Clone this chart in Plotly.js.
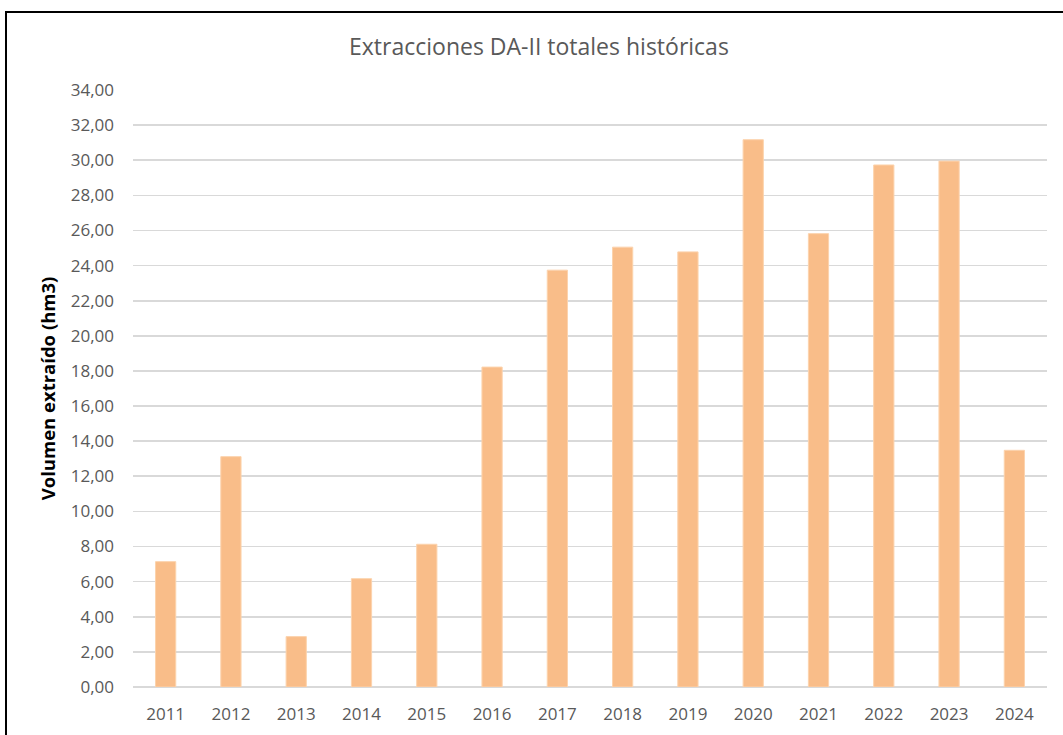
<!DOCTYPE html>
<html>
<head>
<meta charset="utf-8">
<script src="https://cdn.plot.ly/plotly-3.0.1.min.js"></script>
<style>
html,body{margin:0;padding:0;background:#fff;overflow:hidden;}
#chart{position:absolute;left:0;top:0;width:1063px;height:735px;}
#frame{position:absolute;left:5px;top:11px;width:1100px;height:800px;border:2px solid #000;pointer-events:none;}
</style>
</head>
<body>
<div id="chart"></div>
<div id="frame"></div>
<script>
const years = ["2011","2012","2013","2014","2015","2016","2017","2018","2019","2020","2021","2022","2023","2024"];
const volumes = [7.14, 13.12, 2.87, 6.17, 8.13, 18.22, 23.74, 25.05, 24.78, 31.17, 25.82, 29.73, 29.95, 13.48];
const yTicks = [0,2,4,6,8,10,12,14,16,18,20,22,24,26,28,30,32,34];
const yTickText = yTicks.map(v => v.toFixed(2).replace('.', ','));

const trace = {
  type: 'bar',
  x: years,
  y: volumes,
  marker: {color: '#f9bd89', line: {color: '#fcd3ad', width: 1}},
  hoverinfo: 'x+y'
};

const layout = {
  width: 1063,
  height: 735,
  paper_bgcolor: '#ffffff',
  plot_bgcolor: '#ffffff',
  margin: {l: 133, r: 16, t: 90, b: 48},
  bargap: 0.69,
  showlegend: false,
  font: {family: 'Open Sans, sans-serif', color: '#595959'},
  title: {
    text: 'Extracciones DA-II totales históricas',
    font: {family: 'Open Sans, sans-serif', size: 23, color: '#595959'},
    x: 0.507, xanchor: 'center',
    y: 0.936, yanchor: 'middle'
  },
  xaxis: {
    type: 'category',
    tickfont: {size: 17, color: '#595959'},
    ticks: '',
    ticklabelstandoff: 15,
    showgrid: false,
    showline: false,
    zeroline: false
  },
  yaxis: {
    range: [0, 34],
    tickvals: yTicks,
    ticktext: yTickText,
    tickfont: {size: 17, color: '#595959'},
    ticks: '',
    ticklabelstandoff: 18,
    showgrid: true,
    gridcolor: '#d9d9d9',
    gridwidth: 1.6,
    zeroline: true,
    zerolinecolor: '#d9d9d9',
    zerolinewidth: 1.6,
    showline: false,
    title: {
      text: '<b>Volumen extraído (hm3)</b>',
      font: {family: 'Open Sans, sans-serif', size: 18.5, color: '#000000'},
      standoff: 10
    }
  }
};

Plotly.newPlot('chart', [trace], layout, {displayModeBar: false, staticPlot: true});
</script>
</body>
</html>
